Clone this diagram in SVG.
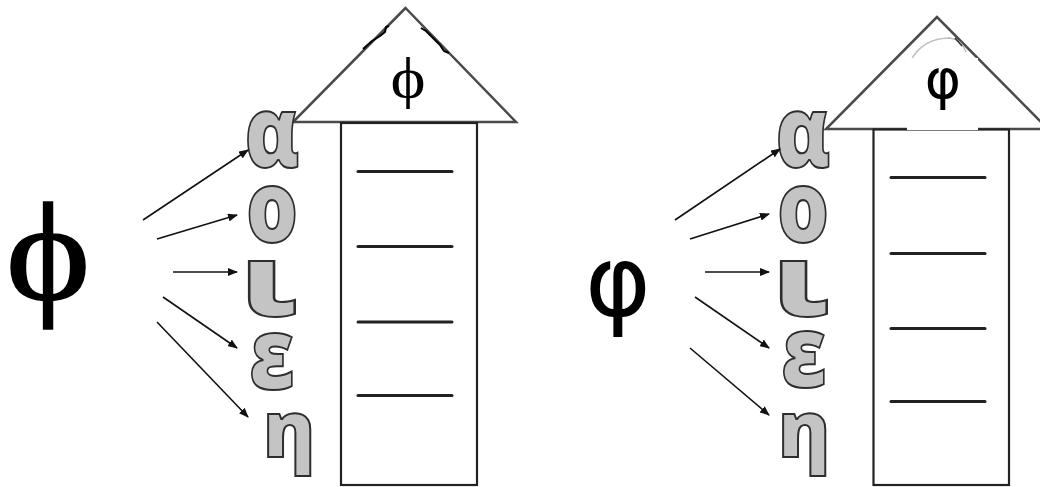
<svg xmlns="http://www.w3.org/2000/svg" width="1040" height="487" viewBox="0 0 1040 487">
  <style>
    .bg { fill: #ffffff; }
    .roof { fill: #ffffff; stroke: #4a4a4a; stroke-width: 2.5; stroke-linejoin: miter; }
    .body { fill: #ffffff; stroke: #222222; stroke-width: 2.2; }
    .dash { stroke: #222222; stroke-width: 3; stroke-linecap: round; }
    .sketch { fill: none; stroke: #000000; stroke-width: 2; stroke-linejoin: round; }
    .vowel { font-family: "Open Sans", "DejaVu Sans", sans-serif; font-weight: 800; font-size: 100px; fill: #c4c4c4; stroke: #2e2e2e; stroke-width: 2; text-anchor: middle; }
    .vowel.small { font-size: 78px; }
    .serifphi { font-family: "Liberation Serif", "Times New Roman", serif; fill: #000000; text-anchor: middle; }
    .sansphi { font-family: "DejaVu Sans", sans-serif; fill: #000000; text-anchor: middle; }
    .arrow { fill: none; stroke: #111111; stroke-width: 1.6; marker-end: url(#head); }
  </style>
  <defs>
    <marker id="head" viewBox="0 0 10 8" refX="9" refY="4" markerWidth="10" markerHeight="8" markerUnits="userSpaceOnUse" orient="auto">
      <path d="M0,0 L10,4 L0,8 Z" fill="#111111"/>
    </marker>
  </defs>
  <rect class="bg" x="0" y="0" width="1040" height="487"/>

  <!-- Left diagram -->
  <g id="big-phi-left">
    <text class="serifphi" transform="translate(48,299) scale(1.15,1)" font-size="140" stroke="#000" stroke-width="1.5">ϕ</text>
  </g>

  <g id="house-left">
    <polygon class="roof" points="405.5,8 293,122 516,122"/>
    <rect class="body" x="341" y="123" width="136" height="362"/>
    <path class="sketch" d="M363,49 L372,41 L380,36 L385,32 L386,27 L389,26"/>
    <path class="sketch" d="M421,28 L426,31 L433,38 L440,45 L444,51 L449,53"/>
    <line class="dash" x1="358" y1="171.5" x2="452" y2="171.5"/>
    <line class="dash" x1="358" y1="246.5" x2="452" y2="246.5"/>
    <line class="dash" x1="358" y1="322" x2="452" y2="322"/>
    <line class="dash" x1="358" y1="395.5" x2="452" y2="395.5"/>
    <text class="serifphi" transform="translate(408,97) scale(1.15,1)" font-size="58">ϕ</text>
  </g>

  <g id="letters-left">
    <text class="vowel" transform="translate(272,167) scale(0.82,1)">α</text>
    <text class="vowel" transform="translate(272,242) scale(0.82,1)">ο</text>
    <text class="vowel" transform="translate(269,316) scale(1.3,1)">ι</text>
    <text class="vowel" transform="translate(272,389) scale(0.82,1)">ε</text>
    <text class="vowel small" transform="translate(289,457)">η</text>
  </g>

  <!-- Right diagram -->
  <g id="big-phi-right">
    <text class="sansphi" x="618" y="316" font-size="100">φ</text>
  </g>

  <g id="house-right">
    <polygon class="roof" points="937,17 826,129 1048,129"/>
    <rect class="body" x="873.5" y="129.5" width="135.5" height="355.5"/>
    <path d="M910,62 Q922,38 950,38 Q962,40 966,52" fill="none" stroke="#bdbdbd" stroke-width="1.5"/>
    <line x1="955" y1="38" x2="962" y2="46" stroke="#333333" stroke-width="1.5"/>
    <rect x="907" y="58" width="71" height="72" fill="#ffffff"/>
    <line class="dash" x1="891" y1="177.5" x2="985" y2="177.5"/>
    <line class="dash" x1="891" y1="253.5" x2="985" y2="253.5"/>
    <line class="dash" x1="891" y1="328.5" x2="985" y2="328.5"/>
    <line class="dash" x1="891" y1="401.5" x2="985" y2="401.5"/>
    <text class="sansphi" x="943" y="98" font-size="55">φ</text>
  </g>

  <g id="letters-right">
    <text class="vowel" transform="translate(803,167) scale(0.82,1)">α</text>
    <text class="vowel" transform="translate(803,242) scale(0.82,1)">ο</text>
    <text class="vowel" transform="translate(801,316) scale(1.3,1)">ι</text>
    <text class="vowel" transform="translate(804,387) scale(0.82,1)">ε</text>
    <text class="vowel small" transform="translate(804,457)">η</text>
  </g>

  <g id="connectors">
    <line class="arrow" x1="143" y1="220" x2="248" y2="150"/>
    <line class="arrow" x1="157" y1="239" x2="237" y2="215"/>
    <line class="arrow" x1="173" y1="272" x2="237" y2="272"/>
    <line class="arrow" x1="163" y1="297" x2="237" y2="348"/>
    <line class="arrow" x1="157" y1="322" x2="248" y2="417"/>

    <line class="arrow" x1="675" y1="220" x2="780" y2="149"/>
    <line class="arrow" x1="690" y1="239" x2="769" y2="214"/>
    <line class="arrow" x1="705" y1="272" x2="769" y2="272"/>
    <line class="arrow" x1="695" y1="297" x2="769" y2="348"/>
    <line class="arrow" x1="690" y1="348" x2="769" y2="415"/>
  </g>
</svg>
